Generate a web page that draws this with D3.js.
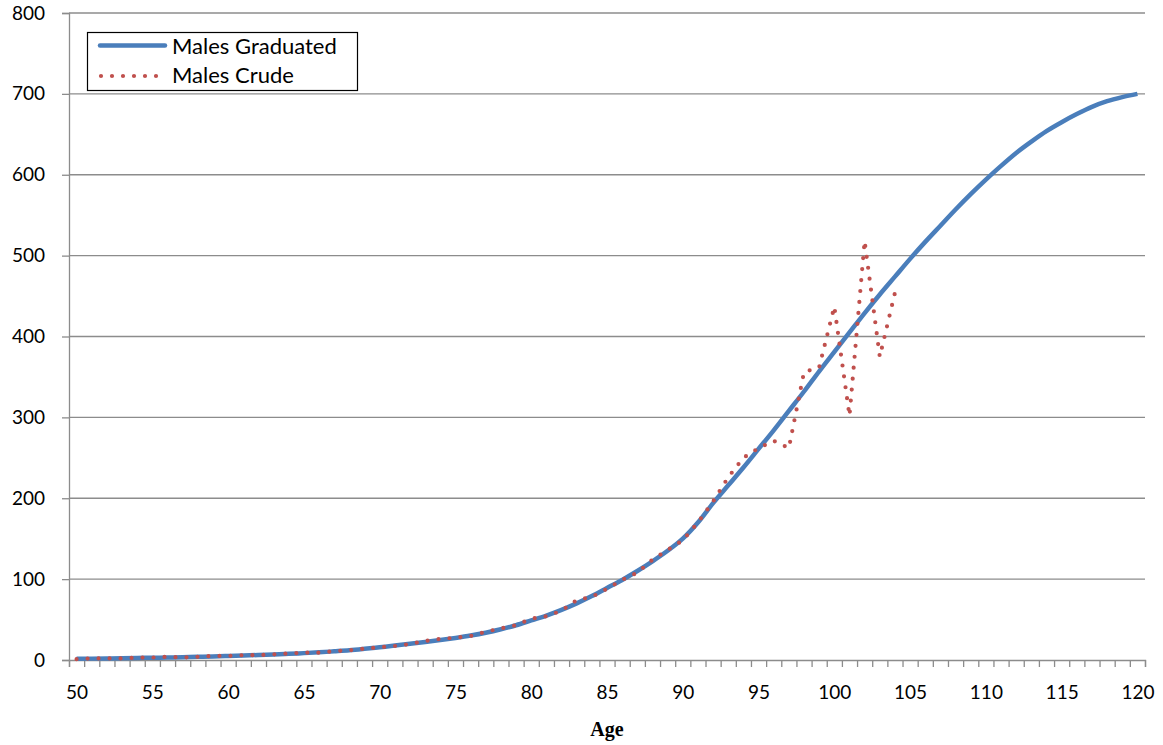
<!DOCTYPE html>
<html>
<head>
<meta charset="utf-8">
<script src="https://cdn.jsdelivr.net/npm/d3@7"></script>
<style>
  body { margin: 0; background: #fff; }
  text { font-family: Lato, "Open Sans", sans-serif; }
</style>
</head>
<body>
<div id="chart"></div>
<script>
// ages 50..120
var ages = d3.range(50, 121);

// graduated rates, one per age 50..120
var graduated = [
  1.5, 1.7, 1.9, 2.2, 2.5, 2.8, 3.1, 3.5, 3.9, 4.4,
  5.0, 5.6, 6.2, 6.8, 7.6, 8.5, 9.5, 10.7, 12.0, 13.8,
  15.8, 17.8, 20.0, 22.3, 24.7, 27.3, 30.2, 33.7, 38.0, 43.0,
  49, 55, 62, 70, 79, 89, 99, 110, 122, 135,
  150, 170, 194, 216, 238, 261, 284, 308, 332, 357,
  381, 405, 429, 452, 474, 496, 517, 537, 557, 576,
  594, 611, 627, 641, 654, 665, 675, 684, 691, 696,
  700
];

// crude rates, ages 50..104
var crudeAges = d3.range(50, 105);
var crude = [
  1, 2, 2, 2, 3, 3, 4, 3, 4, 5,
  5, 6, 6, 7, 8, 9, 9, 11, 12, 14,
  15.7, 17.3, 19.8, 23.5, 26, 27.5, 29.7, 35, 39, 43,
  51, 54, 61, 74, 78, 88, 99, 108, 124, 136,
  148, 170, 196, 226, 250, 262, 271, 262, 356, 362,
  437, 302, 518, 375, 454
];

var yTicks = d3.range(0, 801, 100);
var xLabels = d3.range(50, 121, 5);

var W = 1163, H = 745;
var plotL = 69, plotR = 1145, plotT = 13, plotB = 660;

var svg = d3.select("#chart").append("svg")
  .attr("width", W)
  .attr("height", H);

var x = d3.scaleLinear().domain([49.5, 120.5]).range([plotL, plotR]);
var y = d3.scaleLinear().domain([0, 800]).range([plotB, plotT]);

var gridColor = "#8c8c8c";

/* gridlines + y axis */
var yAxis = d3.axisLeft(y).tickValues(yTicks).tickSize(7).tickPadding(17);
var gy = svg.append("g")
  .attr("transform", `translate(${plotL},0)`)
  .call(yAxis);
gy.select(".domain").attr("stroke", gridColor).attr("stroke-width", 1.3);
gy.selectAll(".tick line").attr("stroke", gridColor).attr("stroke-width", 1.3);
gy.selectAll(".tick text")
  .attr("fill", "#000")
  .style("font-size", "19px")
  .style("font-family", "Lato, sans-serif");

svg.append("g").selectAll("line")
  .data(yTicks.filter(d => d > 0)).enter()
  .append("line")
  .attr("x1", plotL).attr("x2", plotR)
  .attr("y1", d => y(d)).attr("y2", d => y(d))
  .attr("stroke", gridColor)
  .attr("stroke-width", 1.3);

/* x axis: tick marks between categories */
var xAxisTicks = d3.axisBottom(x)
  .tickValues(d3.range(49.5, 121, 1))
  .tickSize(7)
  .tickFormat("");
var gx = svg.append("g")
  .attr("transform", `translate(0,${plotB})`)
  .call(xAxisTicks);
gx.select(".domain").attr("stroke", gridColor).attr("stroke-width", 1.3);
gx.selectAll(".tick line").attr("stroke", gridColor).attr("stroke-width", 1.3);

var xAxisLabels = d3.axisBottom(x)
  .tickValues(xLabels)
  .tickSize(0)
  .tickPadding(26);
var gxl = svg.append("g")
  .attr("transform", `translate(0,${plotB})`)
  .call(xAxisLabels);
gxl.select(".domain").remove();
gxl.selectAll(".tick text")
  .attr("fill", "#000")
  .style("font-size", "19px")
  .style("font-family", "Lato, sans-serif");

svg.append("text")
  .attr("x", (plotL + plotR) / 2)
  .attr("y", 736)
  .attr("text-anchor", "middle")
  .style("font-family", "'Liberation Serif', 'Times New Roman', serif")
  .style("font-weight", "bold")
  .style("font-size", "20px")
  .text("Age");

/* lines */
var smooth = d3.line()
  .curve(d3.curveMonotoneX)
  .x(d => x(d[0]))
  .y(d => y(d[1]));

var line = d3.line()
  .x(d => x(d[0]))
  .y(d => y(d[1]));

svg.append("path")
  .datum(ages.map((a, i) => [a, graduated[i]]))
  .attr("d", smooth)
  .attr("fill", "none")
  .attr("stroke", "#4a7ebb")
  .attr("stroke-width", 4.5)
  .attr("stroke-linejoin", "round");

svg.append("path")
  .datum(crudeAges.map((a, i) => [a, crude[i]]))
  .attr("d", line)
  .attr("fill", "none")
  .attr("stroke", "#c0504d")
  .attr("stroke-width", 4.2)
  .attr("stroke-linecap", "round")
  .attr("stroke-dasharray", "0 11");

/* legend */
var lg = svg.append("g");
lg.append("rect")
  .attr("x", 87.5).attr("y", 32.5)
  .attr("width", 270).attr("height", 58)
  .attr("fill", "#fff")
  .attr("stroke", "#000")
  .attr("stroke-width", 1.2);
lg.append("line")
  .attr("x1", 100).attr("x2", 165).attr("y1", 45.5).attr("y2", 45.5)
  .attr("stroke", "#4a7ebb").attr("stroke-width", 4.5).attr("stroke-linecap", "round");
lg.append("line")
  .attr("x1", 101).attr("x2", 160).attr("y1", 76).attr("y2", 76)
  .attr("stroke", "#c0504d").attr("stroke-width", 4.2)
  .attr("stroke-linecap", "round").attr("stroke-dasharray", "0 11");
lg.append("text")
  .attr("x", 172).attr("y", 53.5)
  .style("font-size", "22px")
  .text("Males Graduated");
lg.append("text")
  .attr("x", 172).attr("y", 83)
  .style("font-size", "22px")
  .text("Males Crude");
</script>
</body>
</html>
